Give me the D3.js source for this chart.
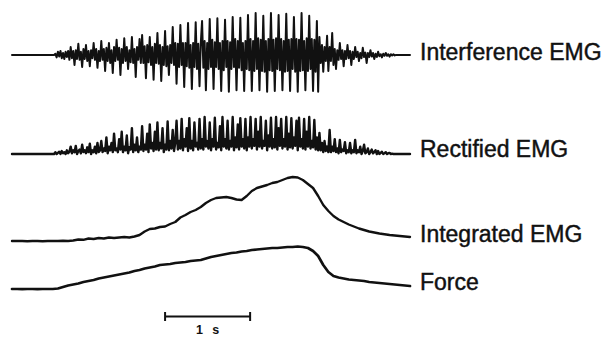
<!DOCTYPE html>
<html>
<head>
<meta charset="utf-8">
<script src="https://cdn.jsdelivr.net/npm/d3@7"></script>
<style>
  html, body { margin: 0; padding: 0; background: #fff; }
  svg { display: block; }
  .lbl { font-family: "Liberation Sans", Arial, Helvetica, sans-serif; font-size: 23px; fill: #111; stroke: #111; stroke-width: 0.45px; }
  .bar-lbl { font-family: "Liberation Sans", Arial, sans-serif; font-size: 12.5px; font-weight: bold; fill: #111; letter-spacing: 3px; }
</style>
</head>
<body>
<script>
// ---- Data ----
const trackLabels = ["Interference EMG", "Rectified EMG", "Integrated EMG", "Force"];
const emgStep = 0.015;  // s between EMG samples
const slowStep = 0.06;  // s between integrated EMG / force samples
const totalTime = 4.68; // s
const scaleBarStart = 1.8; // s
const scaleBarLength = 1;  // s
const scaleBarLabel = "1 s";

// Interference EMG (relative amplitude)
const interferenceEMG = [
  0,0,0,0,0,0,0,0,0,0,0,0,0,0,0,0,0,0,0,0,0,0,0,0,0,0,0,0,0,0,0,0,0,0,
  0.03,-0.06,0.08,-0.04,0.1,-0.08,0.05,-0.1,0.08,-0.05,0.1,-0.12,
  0.2,-0.08,0.1,-0.25,0.12,-0.1,0.28,-0.12,0.08,-0.3,0.15,-0.1,0.25,-0.15,0.1,-0.28,0.12,-0.08,0.3,-0.12,0.15,-0.32,0.1,-0.15,
  0.35,-0.12,0.15,-0.4,0.18,-0.15,0.3,-0.2,0.12,-0.45,0.2,-0.15,0.38,-0.12,0.18,-0.5,0.15,-0.2,0.42,-0.15,0.2,-0.35,0.12,-0.18,0.45,-0.2,0.15,-0.55,0.2,-0.12,0.4,-0.2,
  0.5,-0.2,0.22,-0.58,0.25,-0.18,0.45,-0.25,0.2,-0.62,0.28,-0.2,0.55,-0.22,0.25,-0.65,0.2,-0.25,0.6,-0.28,0.22,-0.5,0.25,-0.2,0.7,-0.25,0.3,
  -0.72,0.28,-0.3,0.75,-0.25,0.3,-0.8,0.3,-0.28,0.8,-0.32,0.25,-0.85,0.3,-0.3,0.82,-0.35,0.28,-0.78,0.3,
  0.85,-0.32,0.35,-0.88,0.3,-0.35,0.9,-0.3,0.38,-0.85,0.32,-0.3,0.92,-0.35,0.3,-0.9,0.35,-0.38,0.88,-0.3,0.35,-0.92,0.32,-0.35,0.95,-0.3,0.4,-0.88,0.35,-0.32,0.93,-0.38,0.3,-0.9,0.35,-0.35,
  1.0,-0.38,0.4,-0.9,0.35,-0.4,1.05,-0.35,0.42,-0.88,0.38,-0.4,0.98,-0.42,0.35,-0.92,0.4,-0.38,1.05,-0.4,0.38,-0.9,0.42,-0.35,1.0,-0.38,0.4,-0.88,0.35,-0.42,1.03,-0.4,0.38,-0.9,0.4,-0.35,0.95,-0.42,0.4,-0.92,0.38,-0.4,1.05,-0.38,0.35,-0.88,0.42,-0.4,0.98,-0.35,0.4,-0.9,0.38,-0.42,0.85,-0.92,
  0.45,-0.2,0.25,-0.42,0.2,-0.15,0.48,-0.4,
  0.2,-0.15,0.55,-0.25,0.15,-0.35,0.12,-0.12,0.3,-0.1,0.12,-0.28,0.1,-0.1,0.25,-0.08,0.1,-0.25,0.08,-0.1,
  0.2,-0.05,0.08,-0.15,0.05,-0.08,0.18,-0.05,0.06,-0.2,0.05,-0.05,0.12,-0.04,0.05,-0.1,0.03,-0.05,
  0.08,-0.03,0.02,-0.06,0.03,-0.02,0.05,-0.02,0.02,-0.04,0.02,-0.01,
  0.02,-0.01,0,0,0,0,0,0,0,0,0,0,0,0
];

// Rectified EMG (relative amplitude)
const rectifiedEMG = [
  0,0,0,0,0,0,0,0,0,0,0,0,0,0,0,0,0,0,0,0,0,0,0,0,0,0,0,0,0,0,0,0,0,0,
  0.05,0,0.03,0.06,0,0.08,0.02,0.05,0,0.1,0.02,0.06,
  0.2,0.02,0.1,0.05,0.22,0,0.08,0.12,0.02,0.25,0.05,0.1,0.02,0.18,0.05,0.28,0,0.1,0.05,0.2,0.02,0.3,0.05,0.1,
  0.35,0.05,0.15,0.08,0.45,0.02,0.2,0.1,0.3,0.05,0.55,0.1,0.15,0.05,0.4,0.12,0.6,0.05,0.2,0.1,0.5,0.02,0.18,0.12,0.7,0.05,0.25,0.1,0.45,0.05,0.2,0.12,
  0.75,0.08,0.25,0.12,0.55,0.05,0.8,0.15,0.3,0.08,0.6,0.12,0.85,0.1,0.3,0.15,0.7,0.05,0.25,0.12,0.88,0.1,0.35,0.15,0.65,0.08,0.3,
  0.9,0.12,0.35,0.15,0.95,0.1,0.4,0.2,0.7,0.08,0.97,0.15,0.35,0.1,0.85,0.2,0.3,0.12,0.95,0.15,
  0.4,0.12,1.0,0.2,0.35,0.15,0.85,0.1,0.4,0.2,0.98,0.12,0.3,0.18,0.75,0.1,1.0,0.2,0.4,0.15,0.9,0.12,0.35,0.2,1.0,0.1,0.45,0.18,0.8,0.12,0.97,0.2,0.4,0.15,0.95,0.1,
  0.45,0.2,1.0,0.15,0.4,0.22,0.95,0.12,0.6,0.2,1.0,0.15,0.35,0.22,0.9,0.1,0.5,0.2,0.98,0.15,0.4,0.18,1.0,0.12,0.7,0.22,0.95,0.15,0.4,0.2,1.0,0.12,0.55,0.18,0.97,0.15,0.45,0.22,0.9,0.1,0.98,0.2,0.4,0.15,0.95,0.12,0.6,0.2,1.0,0.15,0.35,0.18,0.92,0.12,0.45,0.1,
  0.57,0.1,0.3,0.05,0.35,0.08,0.2,0.05,
  0.65,0.05,0.2,0.08,0.4,0.05,0.15,0.02,0.38,0.05,0.12,0.08,0.32,0.02,0.1,0.05,0.3,0.02,0.1,0.05,
  0.38,0.02,0.1,0.05,0.2,0,0.08,0.25,0.02,0.05,0.15,0,0.05,0.12,0.02,0.05,0.1,0,
  0.08,0,0.03,0.06,0,0.02,0.05,0,0.02,0.03,0,0.01,
  0,0,0,0,0,0,0,0,0,0,0,0,0,0
];

// Integrated EMG (arbitrary units)
const integratedEMG = [
  0,0,0,-0.3,0,0,-0.2,0,0,0,0.2,0,0.5,1.5,1.2,2.5,2,3,2.5,3.5,
  3,3.5,4,3.5,4.5,6,9.5,12,12.5,14,14.5,17,19,23.5,26,29,31,34,38,41,
  43,43.5,44,43,41.5,41,45,50,53,54.5,56,58,59,61,63,64,63.5,61,57,53,
  45,36,30,25,21.5,19,16.5,14.5,12.5,11,9.5,8.5,7.5,6.8,6,5.5,5,4.5,4
];

// Force (arbitrary units)
const force = [
  0,0,-0.2,0,0,-0.2,0,0,0,0.5,2,3.5,4.5,5.5,7,8,9,10.5,11.5,12.5,
  13.5,14.5,15.5,16.5,18,19,20.5,21.5,22.5,24,24.5,25,26,26.5,27,28,28.5,29,30.5,32,
  33,34,35,36,36.5,37.5,38,39,39.5,40,40.5,41,41,41.5,42,42,42.5,42,41,38,
  33,24,17,13,11.5,10.5,9.5,9,8.5,8,7,6.5,6,5.5,5,4.5,4,3.5,3
];

// ---- Drawing ----
const W = 610, H = 338;
const svg = d3.select("body").append("svg").attr("width", W).attr("height", H);

const x = d3.scaleLinear().domain([0, totalTime]).range([12, 410]);

const yInter = d3.scaleLinear().domain([-1, 1]).range([95, 15]);
const yRect  = d3.scaleLinear().domain([0, 1]).range([154, 117]);
const yInt   = d3.scaleLinear().domain([0, 64]).range([241, 177]);
const yForce = d3.scaleLinear().domain([0, 42]).range([289, 247]);

function drawTrace(values, step, y, width) {
  const line = d3.line()
    .x((d, i) => x(i * step))
    .y(d => y(d))
    .curve(d3.curveLinear);
  svg.append("path")
    .datum(values)
    .attr("d", line)
    .attr("fill", "none")
    .attr("stroke", "#111")
    .attr("stroke-width", width)
    .attr("stroke-linejoin", "round")
    .attr("stroke-linecap", "round");
}

drawTrace(interferenceEMG, emgStep, yInter, 2.0);
drawTrace(rectifiedEMG, emgStep, yRect, 2.4);
drawTrace(integratedEMG, slowStep, yInt, 2.4);
drawTrace(force, slowStep, yForce, 2.7);

// Labels
const labelY = [59.5, 156.5, 241.5, 289.5];
svg.selectAll("text.lbl")
  .data(trackLabels)
  .enter().append("text")
  .attr("class", "lbl")
  .attr("x", 420)
  .attr("y", (d, i) => labelY[i])
  .text(d => d);

// Scale bar
const sb = svg.append("g");
const x0 = x(scaleBarStart), x1 = x(scaleBarStart + scaleBarLength);
sb.append("line").attr("x1", x0).attr("x2", x1).attr("y1", 316.5).attr("y2", 316.5)
  .attr("stroke", "#111").attr("stroke-width", 2);
[x0, x1].forEach(px => {
  sb.append("line").attr("x1", px).attr("x2", px).attr("y1", 312).attr("y2", 321)
    .attr("stroke", "#111").attr("stroke-width", 2);
});
sb.append("text").attr("class", "bar-lbl")
  .attr("x", (x0 + x1) / 2 + 1.5).attr("y", 334)
  .attr("text-anchor", "middle")
  .text(scaleBarLabel);
</script>
</body>
</html>
